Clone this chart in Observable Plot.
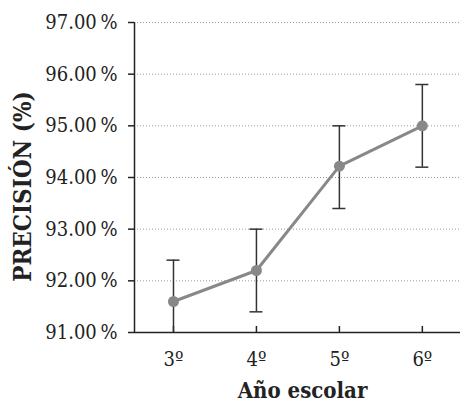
<!DOCTYPE html>
<html><head><meta charset="utf-8">
<script src="https://cdn.jsdelivr.net/npm/d3@7"></script>
<script src="https://cdn.jsdelivr.net/npm/@observablehq/plot@0.6"></script>
<style>
html,body{margin:0;padding:0;background:#fff;}
</style>
</head><body>
<div id="chart"></div>
<script>
const grades = [3, 4, 5, 6];
const gradeLabels = ["3º", "4º", "5º", "6º"];
const precision = [91.6, 92.2, 94.22, 95.0];
const errLow = [90.8, 91.4, 93.4, 94.2];
const errHigh = [92.4, 93.0, 95.0, 95.8];
const yTicks = [91, 92, 93, 94, 95, 96, 97];

const data = grades.map((g, i) => ({x: g, label: gradeLabels[i], y: precision[i], lo: errLow[i], hi: errHigh[i]}));
const font = "DejaVu Serif Condensed, DejaVu Serif, serif";

const chart = Plot.plot({
  width: 461, height: 403,
  marginLeft: 134, marginRight: 1, marginTop: 22, marginBottom: 71,
  style: {fontFamily: font, fontSize: "20px", color: "#222", background: "#fff"},
  x: {domain: [2.53, 6.46], ticks: grades, label: null},
  y: {domain: [91, 97], ticks: yTicks, label: null},
  marks: [
    Plot.gridY(yTicks, {stroke: "#999", strokeOpacity: 1, strokeDasharray: "1,2", strokeWidth: 1}),
    Plot.axisY(yTicks, {tickSize: 6, tickPadding: 11, tickFormat: d => d.toFixed(2) + "\u2009%", fontSize: 20, stroke: "#222", strokeWidth: 1.5}),
    Plot.axisX(grades, {tickSize: 0, tickPadding: 19, tickFormat: d => gradeLabels[grades.indexOf(d)], fontSize: 20}),
    Plot.ruleX(grades, {x: d => d, y1: 91, y2: 91, insetTop: -6, stroke: "#222", strokeWidth: 1.5}),
    Plot.ruleX([2.53], {stroke: "#222", strokeWidth: 1.5}),
    Plot.ruleY([91], {stroke: "#222", strokeWidth: 1.5}),
    Plot.ruleX(data, {x: "x", y1: "lo", y2: "hi", stroke: "#333", strokeWidth: 1.5, clip: true}),
    Plot.ruleY(data, {y: "hi", x1: "x", x2: "x", insetLeft: -6.5, insetRight: -6.5, stroke: "#333", strokeWidth: 1.5, clip: true}),
    Plot.ruleY(data, {y: "lo", x1: "x", x2: "x", insetLeft: -6.5, insetRight: -6.5, stroke: "#333", strokeWidth: 1.5, clip: true}),
    Plot.line(data, {x: "x", y: "y", stroke: "#888", strokeWidth: 3}),
    Plot.dot(data, {x: "x", y: "y", r: 5.5, fill: "#888", stroke: "none"}),
    Plot.text(["PRECISIÓN (%)"], {frameAnchor: "left", textAnchor: "middle", lineAnchor: "middle", rotate: -90, dx: -111, dy: 9, fontSize: 24, fontWeight: "bold", fill: "#222"}),
    Plot.text(["Año escolar"], {frameAnchor: "bottom", dy: 65, dx: 5, fontSize: 22, fontWeight: "bold", fill: "#222"})
  ]
});
document.getElementById("chart").append(chart);
</script>
</body></html>
